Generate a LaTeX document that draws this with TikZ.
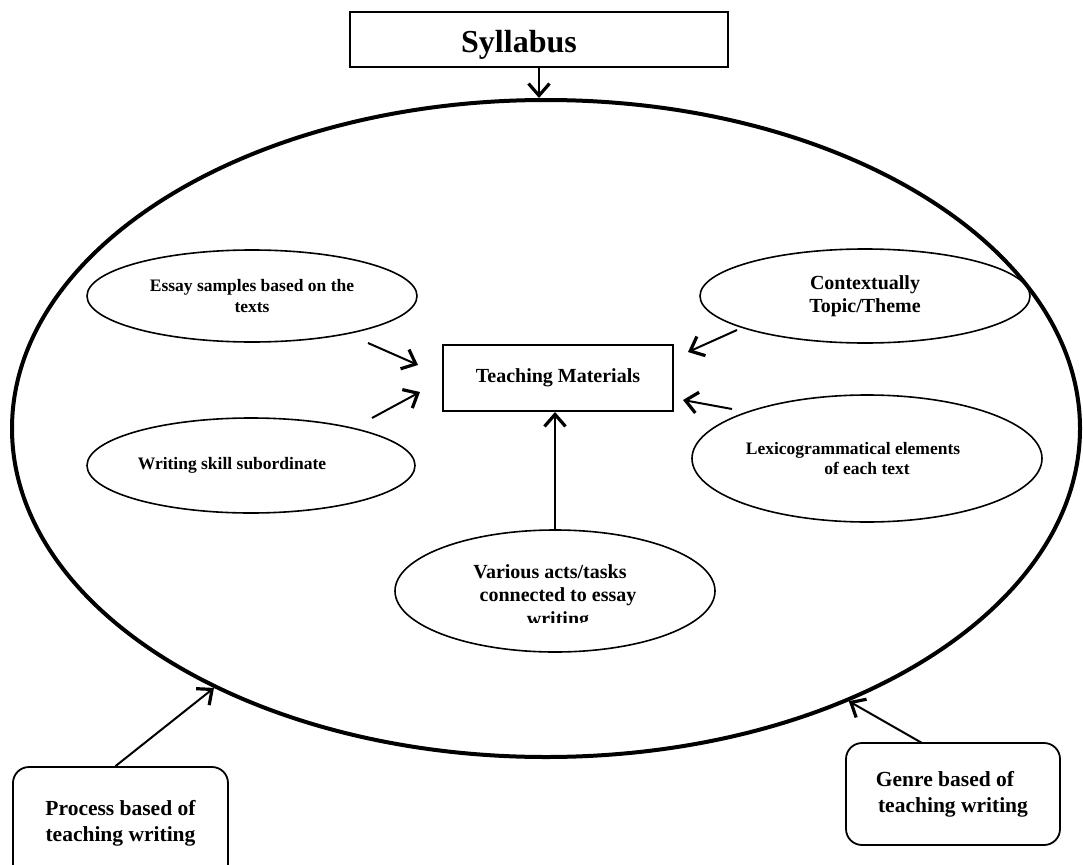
\documentclass[tikz,border=0pt]{standalone}
\usepackage{fontspec}
\setmainfont{Liberation Serif}
\usetikzlibrary{shapes.geometric,arrows.meta}
\begin{document}
\begin{tikzpicture}[x=1pt,y=-1pt,
  every node/.style={font=\bfseries, text=black},
  oval/.style={draw, ellipse, line width=1.6pt, inner sep=0pt, align=center},
  sqbox/.style={draw, rectangle, line width=2pt, inner sep=0pt, align=center},
  rbox/.style={draw, rectangle, rounded corners=16pt, line width=1.8pt, inner sep=0pt, align=center},
  arr/.style={line width=2pt, -{Straight Barb[length=12pt,width=21pt,line width=3.2pt]}},
  small/.style={font=\bfseries\fontsize{17.5}{20.5}\selectfont},
  mid/.style={font=\bfseries\fontsize{20}{23.5}\selectfont},
  big/.style={font=\bfseries\fontsize{21.5}{26}\selectfont}
]
\useasboundingbox (0,0) rectangle (1083,864);
\clip (0,0) rectangle (1083,864);

% outer ellipse
\node[draw, ellipse, line width=4pt, inner sep=0pt, minimum width=1068pt, minimum height=657pt] (outer) at (546,428.5) {};

% syllabus
\node[sqbox, minimum width=378pt, minimum height=55pt, text height=27pt, text depth=0pt,
      font=\bfseries\fontsize{32}{36}\selectfont] (syl) at (539,39.5) {Syllabus\hspace*{40pt}};

% teaching materials
\node[sqbox, mid, minimum width=230pt, minimum height=66pt] (tm) at (558,378) {Teaching Materials};

% ovals
\node[oval, small, minimum width=330pt, minimum height=92pt] (essay) at (252,296)
  {Essay samples based on the\\texts};
\node[oval, small, minimum width=328pt, minimum height=95pt] (writ) at (251,465.5)
  {Writing skill subordinate\hspace*{38pt}};
\node[oval, mid, minimum width=330pt, minimum height=94pt] (ctx) at (865,296)
  {Contextually\\Topic/Theme};
\node[oval, small, minimum width=350pt, minimum height=127pt] (lex) at (867,458.5)
  {Lexicogrammatical elements\hspace*{28pt}\\of each text};
\node[oval, minimum width=320pt, minimum height=122pt] (var) at (555,591) {};
\begin{scope}
  \clip (380,520) rectangle (720,622);
  \node[mid, align=center] (vartext) at (558,597)
    {Various acts/tasks\hspace*{16pt}\\connected to essay\\writing};
\end{scope}

% bottom boxes
\node[rbox, big, minimum width=215pt, minimum height=113pt, text height=40pt] (proc) at (120.5,823.5)
  {Process based of\\teaching writing};
\node[rbox, big, minimum width=214pt, minimum height=102pt] (genre) at (953,794)
  {Genre based of\hspace*{16pt}\\teaching writing};

% free arrow ends
\coordinate (e1) at (368,343);  \coordinate (e2) at (418,365);
\coordinate (w1) at (372,418);  \coordinate (w2) at (420,392);
\coordinate (c1) at (737,330);  \coordinate (c2) at (688,352);
\coordinate (l1) at (732,409);  \coordinate (l2) at (683,400);
\coordinate (g1) at (922,743);

% connectors
\draw[arr] (syl.south) -- (syl.south |- outer.north);
\draw[arr] (e1) -- (e2);
\draw[arr] (w1) -- (w2);
\draw[arr] (c1) -- (c2);
\draw[arr] (l1) -- (l2);
\draw[arr] (var.north) -- (var.north |- tm.south);
\draw[arr] ([xshift=-5pt]proc.north) -- (outer.218.4);
\draw[arr] (g1) -- (outer.318.3);
\end{tikzpicture}
\end{document}
